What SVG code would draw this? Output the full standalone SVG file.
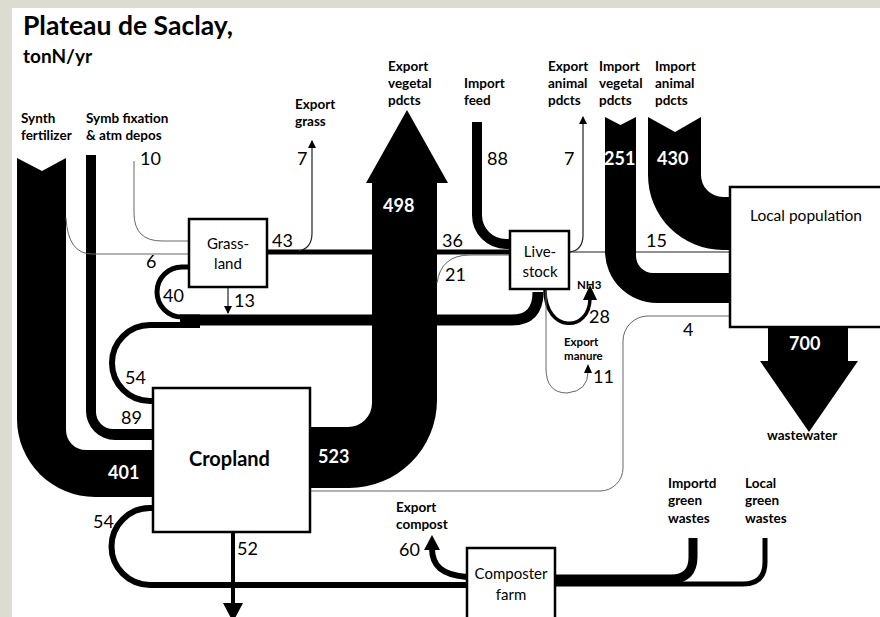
<svg xmlns="http://www.w3.org/2000/svg" width="880" height="617" viewBox="0 0 880 617">
<defs>
<style>
text{font-family:Lato,"Liberation Sans",sans-serif;fill:#000}
.ttl{font-weight:bold;font-size:26.5px}
.sub{font-weight:bold;font-size:19px}
.lbl{font-weight:bold;font-size:13.5px}
.sm{font-weight:bold;font-size:11.5px}
.num{font-size:18px}
.wn{font-weight:bold;font-size:18px;fill:#fff}
.bt{font-size:15px;text-anchor:middle}
.box{fill:#fff;stroke:#000;stroke-width:2.5}
.band{fill:#000}
.thk{fill:none;stroke:#000}
.thin{fill:none;stroke:#222;stroke-width:1.2}
.grey{fill:none;stroke:#666;stroke-width:1}
</style>
<marker id="ah" markerUnits="userSpaceOnUse" markerWidth="8" markerHeight="8" refX="7" refY="4" orient="auto">
<path d="M0,0 L8,4 L0,8 Z" fill="#000"/>
</marker>
</defs>
<rect x="0" y="0" width="880" height="617" fill="#dcddd0"/>
<rect x="12" y="8" width="870" height="612" fill="#fff"/>

<text class="ttl" x="23" y="35">Plateau de Saclay,</text>
<text class="sub" x="23" y="63">tonN/yr</text>

<g id="connectors">
<path class="band" d="M17,158 L42,171 L66,158 V430 A20,20 0 0 0 86,450 H153 V497 H95 A78,78 0 0 1 17,419 Z"/>
<path class="band" d="M86,155 H96 V412 A17,17 0 0 0 113,429 H153 V440 H115 A29,29 0 0 1 86,411 Z"/>
<path class="grey" d="M66,218 Q68,254 92,254 H189"/>
<path class="grey" d="M134,161 V213 Q134,241 162,241 H189"/>
<path class="band" d="M310,427 H348 A24,24 0 0 0 372,403 V183 H366 L407,110 L448,183 H437 V400 A88,88 0 0 1 349,488 H310 Z"/>
<path class="thk" stroke-width="5" d="M267,252 H510"/>
<path class="thin" marker-end="url(#ah)" d="M298,251 Q312,249 312,233 V141"/>
<path class="thk" stroke-width="10" d="M477,122 V215 A29,29 0 0 0 506,244 H510"/>
<path class="grey" d="M437,283 Q441,255 470,255 H510"/>
<path class="thk" stroke-width="5" d="M189,267 H182 A25,25 0 0 0 182,317 H200"/>
<path class="thk" stroke-width="6" d="M153,401 H150 A38,38 0 0 1 150,325 H200"/>
<path class="thk" stroke-width="11" d="M180,320 H512 Q538,320 538,292"/>
<path class="thin" marker-end="url(#ah)" d="M228,287 V313"/>
<path class="thk" stroke-width="3.5" d="M545,290 C545,333 590,333 590,298"/>
<polygon points="583,300 590,285 597,300" fill="#000"/>
<path class="grey" d="M546,290 V368 Q546,393 567,393 Q588,391 588,372"/>
<polygon points="584,373 588,364 592,373" fill="#000"/>
<path class="thin" d="M569,252 H730"/>
<path class="thin" marker-end="url(#ah)" d="M570,252 Q583,250 583,235 V117"/>
<path class="band" d="M605,117 L620.5,125 L636,117 V256 A17,17 0 0 0 653,273 H730 V303 H657 A52,52 0 0 1 605,251 Z"/>
<path class="band" d="M648,117 L675,132 L701,117 V175 A22,22 0 0 0 723,197 H730 V250 H723 A75,75 0 0 1 648,175 Z"/>
<path class="grey" d="M730,316 H648 A25,25 0 0 0 623,341 V468 A23,23 0 0 1 600,491 H310"/>
<path class="band" d="M768,327 H848 V361 H858 L809,432 L760,361 H768 Z"/>
<path class="thk" stroke-width="6" d="M153,508 H150 A38.5,38.5 0 0 0 150,585 H467"/>
<path class="thk" stroke-width="4" d="M233,532 V605"/>
<polygon points="223,603 243,603 233,622" fill="#000"/>
<path class="thk" stroke-width="6" d="M467,577 C442,575 432,566 432,548"/>
<polygon points="424,550 432,535 440,550" fill="#000"/>
<path class="thk" stroke-width="9" d="M693,538 V557 Q693,579 671,579 H555"/>
<path class="thk" stroke-width="5" d="M765,538 V562 Q765,584 743,584 H555"/>
</g>

<g id="grassland">
<rect class="box" x="189" y="219" width="78" height="68"/>
<text class="bt" x="228" y="249">Grass-</text>
<text class="bt" x="228" y="269">land</text>
</g>
<g id="livestock">
<rect class="box" x="510" y="231" width="59" height="58"/>
<text class="bt" x="540" y="257">Live-</text>
<text class="bt" x="540" y="277">stock</text>
</g>
<g id="local-population">
<rect class="box" x="730" y="187" width="160" height="140"/>
<text x="750" y="221" style="font-size:15.5px">Local population</text>
</g>
<g id="cropland">
<rect class="box" x="153" y="388" width="157" height="144"/>
<text x="189" y="466" style="font-size:20px;font-weight:bold">Cropland</text>
</g>
<g id="composter">
<rect class="box" x="467" y="548" width="88" height="80"/>
<text class="bt" x="511" y="579">Composter</text>
<text class="bt" x="511" y="600">farm</text>
</g>

<g id="labels">
<text class="lbl" x="21" y="123">Synth</text>
<text class="lbl" x="21" y="140">fertilizer</text>
<text class="lbl" x="86" y="123">Symb fixation</text>
<text class="lbl" x="86" y="140">&amp; atm depos</text>
<text class="lbl" x="295" y="109">Export</text>
<text class="lbl" x="295" y="126">grass</text>
<text class="lbl" x="388" y="71">Export</text>
<text class="lbl" x="388" y="88">vegetal</text>
<text class="lbl" x="388" y="105">pdcts</text>
<text class="lbl" x="464" y="88">Import</text>
<text class="lbl" x="464" y="105">feed</text>
<text class="lbl" x="548" y="71">Export</text>
<text class="lbl" x="548" y="88">animal</text>
<text class="lbl" x="548" y="105">pdcts</text>
<text class="lbl" x="599" y="71">Import</text>
<text class="lbl" x="599" y="88">vegetal</text>
<text class="lbl" x="599" y="105">pdcts</text>
<text class="lbl" x="655" y="71">Import</text>
<text class="lbl" x="655" y="88">animal</text>
<text class="lbl" x="655" y="105">pdcts</text>
<text class="sm" x="577" y="289">NH3</text>
<text class="sm" x="564" y="346">Export</text>
<text class="sm" x="564" y="360">manure</text>
<text class="lbl" x="767" y="440">wastewater</text>
<text class="lbl" x="396" y="512">Export</text>
<text class="lbl" x="396" y="529">compost</text>
<text class="lbl" x="668" y="488">Importd</text>
<text class="lbl" x="668" y="505">green</text>
<text class="lbl" x="668" y="523">wastes</text>
<text class="lbl" x="745" y="488">Local</text>
<text class="lbl" x="745" y="505">green</text>
<text class="lbl" x="745" y="523">wastes</text>

<text class="num" x="140" y="165">10</text>
<text class="num" x="297" y="165">7</text>
<text class="num" x="487" y="165">88</text>
<text class="num" x="564" y="165">7</text>
<text class="wn" x="604" y="165">251</text>
<text class="wn" x="657" y="165">430</text>
<text class="wn" x="383" y="212">498</text>
<text class="num" x="272" y="247">43</text>
<text class="num" x="442" y="247">36</text>
<text class="num" x="445" y="281">21</text>
<text class="num" x="646" y="247">15</text>
<text class="num" x="146" y="268">6</text>
<text class="num" x="163" y="302">40</text>
<text class="num" x="234" y="307">13</text>
<text class="num" x="589" y="323">28</text>
<text class="num" x="683" y="336">4</text>
<text class="num" x="593" y="383">11</text>
<text class="wn" x="789" y="350">700</text>
<text class="num" x="125" y="384">54</text>
<text class="num" x="121" y="424">89</text>
<text class="wn" x="108" y="479">401</text>
<text class="wn" x="318" y="463">523</text>
<text class="num" x="93" y="528">54</text>
<text class="num" x="237" y="555">52</text>
<text class="num" x="399" y="556">60</text>
</g>
</svg>
